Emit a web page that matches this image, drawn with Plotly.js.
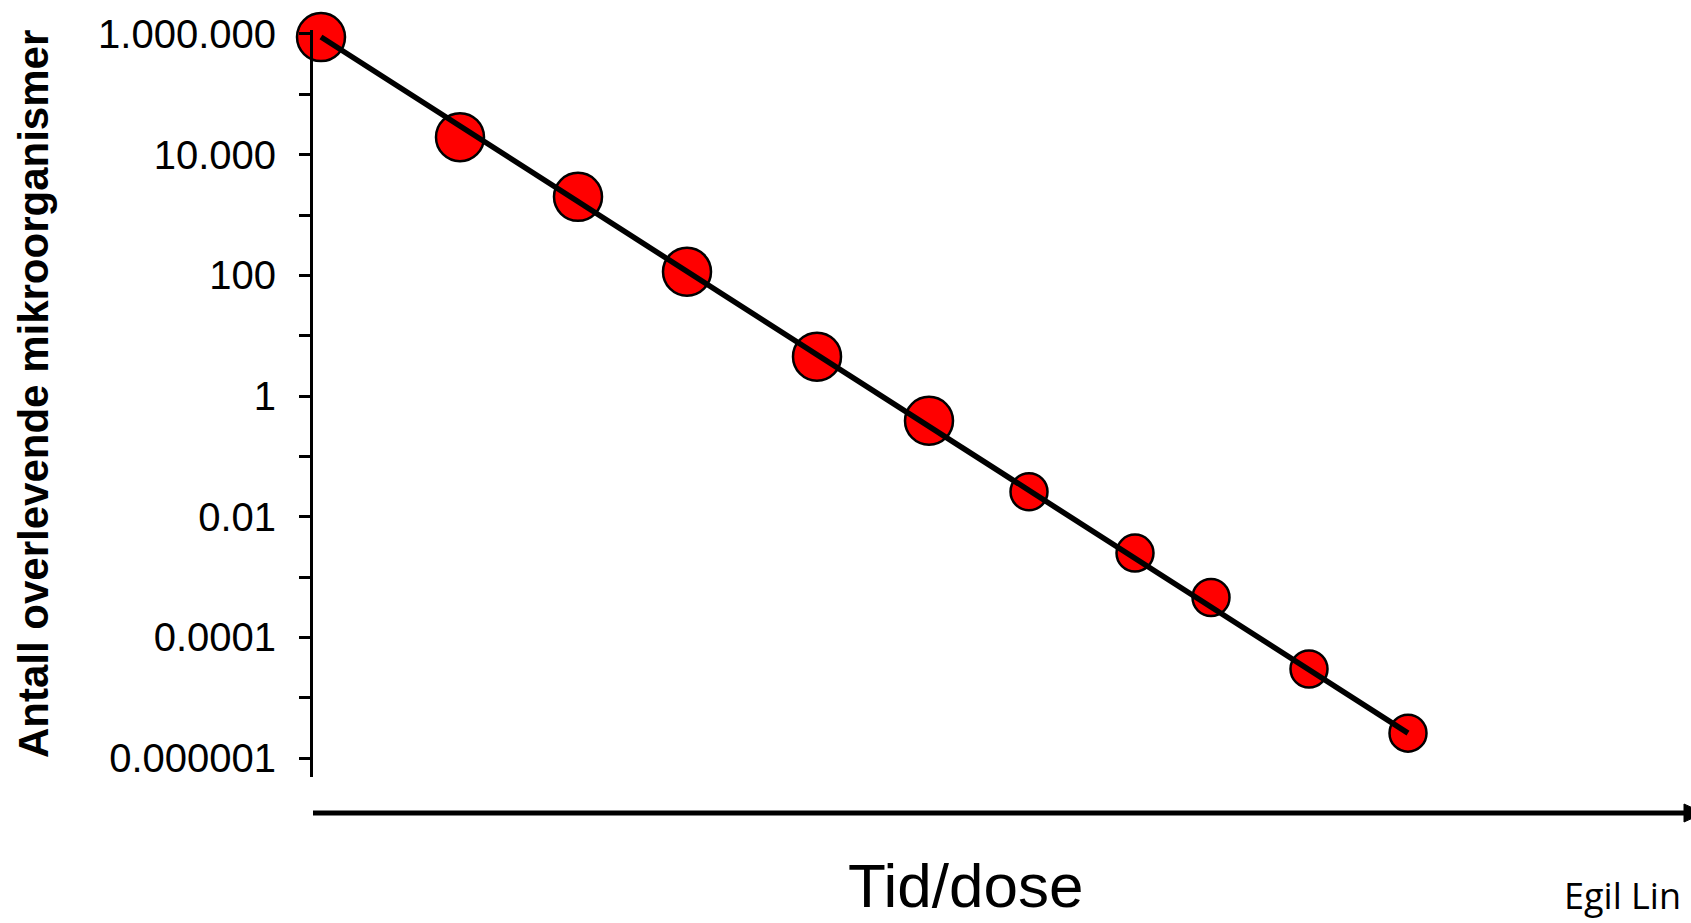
<!DOCTYPE html>
<html>
<head>
<meta charset="utf-8">
<script src="https://cdn.plot.ly/plotly-3.0.1.min.js"></script>
<style>
  html, body { margin: 0; padding: 0; background: #ffffff; }
  #chart { width: 1691px; height: 923px; }
</style>
</head>
<body>
<div id="chart"></div>
<script>
// ---- Data ----
const doseTime = [0.08, 1.47, 2.65, 3.74, 5.04, 6.16, 7.16, 8.22, 8.98, 9.96, 10.95];
const survivors = [890000, 19500, 2000, 115, 4.5, 0.39, 0.026, 0.0025, 0.00046, 0.00003, 0.0000026];

// straight trend line through the series (start / end)
const trendX = [0.08, 10.95];
const trendY = [890000, 0.0000026];

// y-axis ticks (one per decade, label every second decade)
const yTickVals = [1e6, 1e5, 1e4, 1e3, 100, 10, 1, 0.1, 0.01, 0.001, 0.0001, 0.00001, 0.000001];
const yTickText = ["1.000.000", "", "10.000", "", "100", "", "1", "", "0.01", "", "0.0001", "", "0.000001"];

const yTitle = "Antall overlevende mikroorganismer";
const xTitle = "Tid/dose";
const credit = "Egil Lin";

// ---- Layout geometry helpers (pixels -> paper) ----
const W = 1691, H = 923;
const M = { l: 313, r: 1, t: 30, b: 146 };
const PW = W - M.l - M.r, PH = H - M.t - M.b;
const px = v => (v - M.l) / PW;
const py = v => (H - M.b - v) / PH;

const markerSizes = survivors.map((_, i) => (i < 6 ? 48 : 37));

const traces = [
  {
    x: doseTime,
    y: survivors,
    type: "scatter",
    mode: "markers",
    cliponaxis: false,
    marker: {
      color: "#ff0000",
      opacity: 1,
      size: markerSizes,
      line: { color: "#000000", width: 2.5 }
    },
    hoverinfo: "x+y"
  },
  {
    x: trendX,
    y: trendY,
    type: "scatter",
    mode: "lines",
    cliponaxis: false,
    line: { color: "#000000", width: 5.5 },
    hoverinfo: "skip"
  }
];

const arrowY = py(813);
const layout = {
  width: W,
  height: H,
  margin: M,
  paper_bgcolor: "#ffffff",
  plot_bgcolor: "#ffffff",
  showlegend: false,
  font: { family: "Liberation Sans, Arial, sans-serif", color: "#000000" },
  xaxis: {
    range: [0, PW / 100],
    showline: false,
    showgrid: false,
    zeroline: false,
    showticklabels: false,
    ticks: "",
    automargin: false
  },
  yaxis: {
    type: "log",
    range: [-6.312, 6.066],
    tickmode: "array",
    tickvals: yTickVals,
    ticktext: yTickText,
    ticks: "outside",
    ticklen: 11,
    tickwidth: 3,
    tickcolor: "#000000",
    ticklabelstandoff: 15,
    tickfont: { family: "Liberation Sans, Arial, sans-serif", size: 40, color: "#000000" },
    showline: true,
    linewidth: 3,
    linecolor: "#000000",
    showgrid: false,
    zeroline: false,
    automargin: false
  },
  shapes: [
    {
      type: "line", xref: "paper", yref: "paper",
      x0: px(313), x1: px(1686), y0: arrowY, y1: arrowY,
      line: { color: "#000000", width: 5 }
    },
    {
      type: "path", xref: "paper", yref: "paper",
      path: "M " + px(1684) + " " + py(804) + " L " + px(1704) + " " + py(813) + " L " + px(1684) + " " + py(822) + " Z",
      fillcolor: "#000000",
      line: { color: "#000000", width: 1 }
    }
  ],
  annotations: [
    {
      text: "<b>" + yTitle + "</b>",
      xref: "paper", yref: "paper",
      x: px(34), y: py(394),
      xanchor: "center", yanchor: "middle",
      textangle: -90,
      showarrow: false,
      font: { family: "Liberation Sans, Arial, sans-serif", size: 42, color: "#000000" }
    },
    {
      text: xTitle,
      xref: "paper", yref: "paper",
      x: px(966), y: py(922),
      xanchor: "center", yanchor: "bottom",
      showarrow: false,
      font: { family: "Liberation Sans, Arial, sans-serif", size: 62, color: "#000000" }
    },
    {
      text: credit,
      xref: "paper", yref: "paper",
      x: px(1562), y: py(922),
      xanchor: "left", yanchor: "bottom",
      showarrow: false,
      font: { family: "Open Sans, sans-serif", size: 36, color: "#000000" }
    }
  ]
};

Plotly.newPlot("chart", traces, layout, { displayModeBar: false, staticPlot: true });
</script>
</body>
</html>
